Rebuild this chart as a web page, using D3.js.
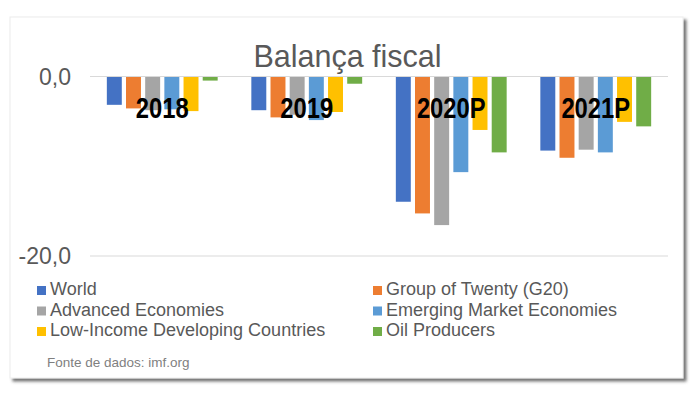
<!DOCTYPE html>
<html>
<head>
<meta charset="utf-8">
<script src="https://cdnjs.cloudflare.com/ajax/libs/d3/7.8.5/d3.min.js"></script>
<style>
  body { margin: 0; background: #fff; }
  svg { display: block; font-family: "Liberation Sans", Arial, sans-serif; }
</style>
</head>
<body>
<div id="chart"></div>
<script>
// categories and series (balança fiscal, % do PIB)
var years = ["2018", "2019", "2020P", "2021P"];
var seriesNames = ["World", "Group of Twenty (G20)", "Advanced Economies",
  "Emerging Market Economies", "Low-Income Developing Countries", "Oil Producers"];
var seriesColors = ["#4472C4", "#ED7D31", "#A5A5A5", "#5B9BD5", "#FFC000", "#70AD47"];

var world    = [-3.1, -3.7, -13.9, -8.2];
var g20      = [-3.5, -4.5, -15.2, -9.0];
var advanced = [-3.7, -4.2, -16.5, -8.1];
var emerging = [-3.6, -4.8, -10.6, -8.4];
var lowIncome = [-3.8, -3.9, -5.9, -5.0];
var oil      = [-0.4, -0.75, -8.4, -5.5];

var yTicks = [0, -20];
var title = "Balança fiscal";
var source = "Fonte de dados: imf.org";

var seriesValues = [world, g20, advanced, emerging, lowIncome, oil];

var width = 700, height = 396;
var margin = {top: 76.5, right: 32, bottom: 140, left: 90};

var svg = d3.select("#chart").append("svg")
  .attr("width", width)
  .attr("height", height);

// card with soft shadow
var defs = svg.append("defs");
var filter = defs.append("filter").attr("id", "card-shadow")
  .attr("x", "-5%").attr("y", "-5%").attr("width", "112%").attr("height", "115%");
filter.append("feDropShadow")
  .attr("dx", 3).attr("dy", 3)
  .attr("stdDeviation", 1.8)
  .attr("flood-color", "#444")
  .attr("flood-opacity", 0.75);

svg.append("rect")
  .attr("x", 10).attr("y", 17)
  .attr("width", 673).attr("height", 361)
  .attr("fill", "#fff")
  .attr("stroke", "#ececec")
  .style("filter", "url(#card-shadow)");

var x0 = d3.scaleBand()
  .domain(years)
  .range([margin.left, width - margin.right])
  .paddingInner(0.233)
  .paddingOuter(0.1165);

var x1 = d3.scaleBand()
  .domain(d3.range(seriesNames.length))
  .range([0, x0.bandwidth()])
  .paddingInner(0.22);

var y = d3.scaleLinear()
  .domain([-20, 0])
  .range([256, margin.top]);

// gridlines
svg.append("g").selectAll("line")
  .data(yTicks)
  .enter().append("line")
  .attr("x1", margin.left)
  .attr("x2", width - margin.right)
  .attr("y1", function(d) { return y(d); })
  .attr("y2", function(d) { return y(d); })
  .attr("stroke", "#d9d9d9")
  .attr("stroke-width", 1);

// y labels
svg.append("g").selectAll("text")
  .data(yTicks)
  .enter().append("text")
  .attr("x", 71)
  .attr("y", function(d) { return y(d); })
  .attr("dy", "0.36em")
  .attr("text-anchor", "end")
  .attr("fill", "#595959")
  .style("font-size", "23px")
  .text(function(d) { return d3.format(".1f")(d).replace(".", ",").replace("−", "-"); });

// bars
var groups = svg.append("g").selectAll("g")
  .data(years)
  .enter().append("g")
  .attr("transform", function(d) { return "translate(" + x0(d) + ",0)"; });

groups.selectAll("rect")
  .data(function(d, i) { return seriesValues.map(function(s, k) { return {k: k, v: s[i]}; }); })
  .enter().append("rect")
  .attr("x", function(d) { return x1(d.k); })
  .attr("width", x1.bandwidth())
  .attr("y", y(0) + 0.5)
  .attr("height", function(d) { return y(d.v) - y(0); })
  .attr("fill", function(d) { return seriesColors[d.k]; });

// category labels drawn over the bars
svg.append("g").selectAll("text")
  .data(years)
  .enter().append("text")
  .attr("transform", function(d) {
    return "translate(" + (x0(d) + x0.bandwidth() / 2) + ",117.5) scale(0.82,1)";
  })
  .attr("text-anchor", "middle")
  .attr("fill", "#000")
  .style("font-size", "29px")
  .style("font-weight", "bold")
  .text(function(d) { return d; });

// title
svg.append("text")
  .attr("x", 347.5)
  .attr("y", 66.5)
  .attr("text-anchor", "middle")
  .attr("fill", "#595959")
  .style("font-size", "30.5px")
  .text(title);

// legend
var legend = svg.append("g").selectAll("g")
  .data(seriesNames)
  .enter().append("g")
  .attr("transform", function(d, i) {
    return "translate(" + (i % 2 === 0 ? 37 : 373) + "," + (295 + Math.floor(i / 2) * 20.5) + ")";
  });

legend.append("rect")
  .attr("x", 0).attr("y", -9)
  .attr("width", 9).attr("height", 9)
  .attr("fill", function(d, i) { return seriesColors[i]; });

legend.append("text")
  .attr("x", 13)
  .attr("y", 0)
  .attr("fill", "#595959")
  .style("font-size", "18px")
  .text(function(d) { return d; });

svg.append("text")
  .attr("x", 47)
  .attr("y", 367)
  .attr("fill", "#7f7f7f")
  .style("font-size", "13.5px")
  .text(source);
</script>
</body>
</html>
